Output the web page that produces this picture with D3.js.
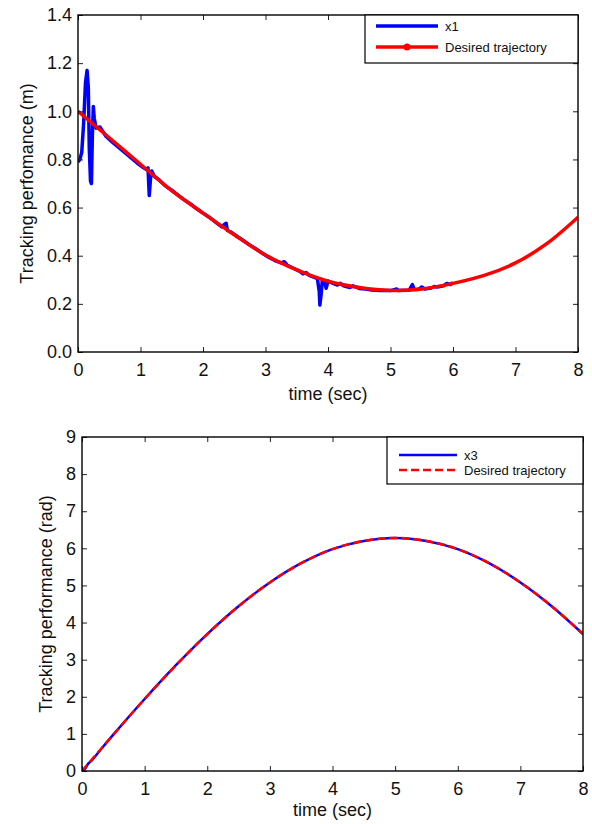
<!DOCTYPE html>
<html>
<head>
<meta charset="utf-8">
<script src="https://cdn.jsdelivr.net/npm/d3@7"></script>
<style>
body { margin: 0; background: #fff; }
text { font-family: "Liberation Sans", Arial, sans-serif; }
</style>
</head>
<body>
<svg id="canvas" width="592" height="824"></svg>
<script>
// time axis shared by both plots
var xTicks = [0, 1, 2, 3, 4, 5, 6, 7, 8];
var tDesired = [0, 0.5, 1, 1.5, 2, 2.5, 3, 3.5, 4, 4.5, 5, 5.5, 6, 6.5, 7, 7.5, 8];

// top plot: x1 and desired trajectory (m)
var x1Ticks = [0, 0.2, 0.4, 0.6, 0.8, 1, 1.2, 1.4];
var x1Desired = [1.00, 0.89, 0.78, 0.67, 0.577, 0.487, 0.403, 0.341, 0.294, 0.268, 0.256, 0.262, 0.285, 0.318, 0.37, 0.45, 0.56];
var x1Time = [0, 0.03, 0.06, 0.09, 0.12, 0.145, 0.165, 0.18, 0.2, 0.215, 0.23, 0.245, 0.26, 0.29, 0.35, 0.45, 0.55, 0.65, 0.75, 0.85, 0.95, 1.05, 1.1, 1.12, 1.14, 1.16, 1.18, 1.22, 1.3, 1.4, 1.5, 1.6, 1.7, 1.8, 1.9, 2.0, 2.1, 2.2, 2.3, 2.34, 2.37, 2.39, 2.45, 2.55, 2.65, 2.75, 2.85, 2.95, 3.05, 3.15, 3.25, 3.3, 3.35, 3.45, 3.55, 3.6, 3.65, 3.7, 3.78, 3.83, 3.86, 3.87, 3.89, 3.91, 3.94, 3.97, 4.0, 4.08, 4.15, 4.2, 4.25, 4.35, 4.4, 4.5, 4.6, 4.7, 4.8, 4.9, 5.0, 5.1, 5.13, 5.2, 5.3, 5.35, 5.38, 5.45, 5.5, 5.55, 5.65, 5.7, 5.75, 5.85, 5.9, 5.95, 6.0];
var x1Values = [0.79, 0.80, 0.83, 0.95, 1.12, 1.17, 1.10, 0.85, 0.71, 0.70, 0.90, 1.02, 0.97, 0.93, 0.935, 0.895, 0.872, 0.85, 0.828, 0.806, 0.784, 0.765, 0.757, 0.765, 0.65, 0.72, 0.752, 0.73, 0.715, 0.69, 0.672, 0.652, 0.632, 0.615, 0.595, 0.577, 0.56, 0.54, 0.52, 0.53, 0.535, 0.505, 0.498, 0.48, 0.462, 0.444, 0.428, 0.41, 0.394, 0.38, 0.37, 0.375, 0.36, 0.348, 0.335, 0.325, 0.33, 0.318, 0.31, 0.305, 0.25, 0.195, 0.24, 0.30, 0.295, 0.265, 0.295, 0.285, 0.278, 0.285, 0.275, 0.268, 0.275, 0.264, 0.262, 0.258, 0.256, 0.255, 0.255, 0.262, 0.255, 0.256, 0.257, 0.28, 0.26, 0.26, 0.27, 0.262, 0.266, 0.272, 0.27, 0.275, 0.285, 0.28, 0.287];

// bottom plot: x3 and desired trajectory (rad)
var x3Ticks = [0, 1, 2, 3, 4, 5, 6, 7, 8, 9];
var x3Desired = [0, 0.98, 1.94, 2.85, 3.69, 4.44, 5.08, 5.60, 5.98, 6.20, 6.28, 6.20, 5.98, 5.60, 5.08, 4.44, 3.69];
var x3Time = [0, 0.05, 0.1, 0.15, 0.2, 0.3, 0.5, 1, 1.5, 2, 2.5, 3, 3.5, 4, 4.5, 5, 5.5, 6, 6.5, 7, 7.5, 8];
var x3Values = [0, 0.06, 0.2, 0.27, 0.37, 0.58, 0.98, 1.94, 2.85, 3.69, 4.44, 5.08, 5.60, 5.98, 6.20, 6.28, 6.20, 5.98, 5.60, 5.08, 4.44, 3.69];

var canvas = d3.select("#canvas");

function drawPanel(p) {
    var x = d3.scaleLinear().domain([0, 8]).range([p.left, p.right]);
    var y = d3.scaleLinear().domain([0, p.yMax]).range([p.bottom, p.top]);
    var g = canvas.append("g");

    g.append("clipPath").attr("id", p.id + "-clip")
        .append("rect")
        .attr("x", p.left).attr("y", p.top)
        .attr("width", p.right - p.left).attr("height", p.bottom - p.top);

    var plot = g.append("g").attr("clip-path", "url(#" + p.id + "-clip)");
    p.series.forEach(function (s) {
        var line = d3.line()
            .x(function (d) { return x(d[0]); })
            .y(function (d) { return y(d[1]); })
            .curve(s.curve);
        plot.append("path")
            .datum(d3.zip(s.t, s.v))
            .attr("d", line)
            .attr("fill", "none")
            .attr("stroke", s.color)
            .attr("stroke-width", s.width)
            .attr("stroke-dasharray", s.dash || null)
            .attr("stroke-linejoin", "round");
    });

    // axes, ticks pointing inward on all four sides
    var bottomAxis = g.append("g")
        .attr("transform", "translate(0," + p.bottom + ")")
        .call(d3.axisBottom(x).tickValues(xTicks).tickSizeInner(-5).tickSizeOuter(0).tickPadding(11));
    g.append("g")
        .attr("transform", "translate(0," + p.top + ")")
        .call(d3.axisTop(x).tickValues(xTicks).tickSizeInner(-5).tickSizeOuter(0).tickFormat(""));
    var leftAxis = g.append("g")
        .attr("transform", "translate(" + p.left + ",0)")
        .call(d3.axisLeft(y).tickValues(p.yTicks).tickSizeInner(-5).tickSizeOuter(0).tickPadding(6));
    g.append("g")
        .attr("transform", "translate(" + p.right + ",0)")
        .call(d3.axisRight(y).tickValues(p.yTicks).tickSizeInner(-5).tickSizeOuter(0).tickFormat(""));
    g.selectAll(".domain").remove();
    g.selectAll(".tick line").attr("stroke", "#222");
    [bottomAxis, leftAxis].forEach(function (a) {
        a.selectAll("text")
            .attr("font-size", 18)
            .attr("font-family", "'Liberation Sans', Arial, sans-serif")
            .attr("fill", "#111");
    });

    g.append("rect")
        .attr("x", p.left).attr("y", p.top)
        .attr("width", p.right - p.left).attr("height", p.bottom - p.top)
        .attr("fill", "none").attr("stroke", "#000").attr("stroke-width", 1.4);

    g.append("text")
        .attr("x", (p.left + p.right) / 2).attr("y", p.xLabelY)
        .attr("text-anchor", "middle").attr("font-size", 18).attr("fill", "#111")
        .text("time (sec)");
    g.append("text")
        .attr("transform", "translate(" + p.yLabelX + "," + ((p.top + p.bottom) / 2) + ") rotate(-90)")
        .attr("text-anchor", "middle").attr("font-size", 18).attr("fill", "#111")
        .text(p.yLabel);

    // legend box
    var lg = p.legend;
    g.append("rect")
        .attr("x", lg.x).attr("y", p.top)
        .attr("width", p.right - lg.x).attr("height", lg.h)
        .attr("fill", "#fff").attr("stroke", "#000").attr("stroke-width", 1.2);
    p.series.forEach(function (s, i) {
        var ly = p.top + lg.rows[i];
        g.append("line")
            .attr("x1", lg.x + lg.lineX0).attr("x2", lg.x + lg.lineX1)
            .attr("y1", ly).attr("y2", ly)
            .attr("stroke", s.color).attr("stroke-width", s.width)
            .attr("stroke-dasharray", s.dash || null);
        if (s.marker) {
            g.append("circle")
                .attr("cx", lg.x + (lg.lineX0 + lg.lineX1) / 2).attr("cy", ly)
                .attr("r", 3.5).attr("fill", s.color);
        }
        g.append("text")
            .attr("x", lg.x + lg.textX).attr("y", ly + 4.5)
            .attr("font-size", 13).attr("fill", "#111")
            .text(s.name);
    });
}

drawPanel({
    id: "top", left: 78, right: 578, top: 15, bottom: 352, yMax: 1.4,
    yTicks: x1Ticks, yLabel: "Tracking perfomance (m)", yLabelX: 33, xLabelY: 400,
    series: [
        { name: "x1", t: x1Time, v: x1Values, color: "#0000ff", width: 3.5, curve: d3.curveLinear },
        { name: "Desired trajectory", t: tDesired, v: x1Desired, color: "#ff0000", width: 3.5, curve: d3.curveCatmullRom, marker: true }
    ],
    legend: { x: 365, h: 48, rows: [11, 32], lineX0: 11, lineX1: 73, textX: 80 }
});

drawPanel({
    id: "bottom", left: 82, right: 583, top: 437, bottom: 771, yMax: 9,
    yTicks: x3Ticks, yLabel: "Tracking performance (rad)", yLabelX: 52, xLabelY: 816,
    series: [
        { name: "x3", t: x3Time, v: x3Values, color: "#0000ff", width: 2.5, curve: d3.curveCatmullRom },
        { name: "Desired trajectory", t: tDesired, v: x3Desired, color: "#ff0000", width: 2.5, curve: d3.curveCatmullRom, dash: "8,4" }
    ],
    legend: { x: 387, h: 47, rows: [18, 33], lineX0: 12, lineX1: 70, textX: 77 }
});
</script>
</body>
</html>
